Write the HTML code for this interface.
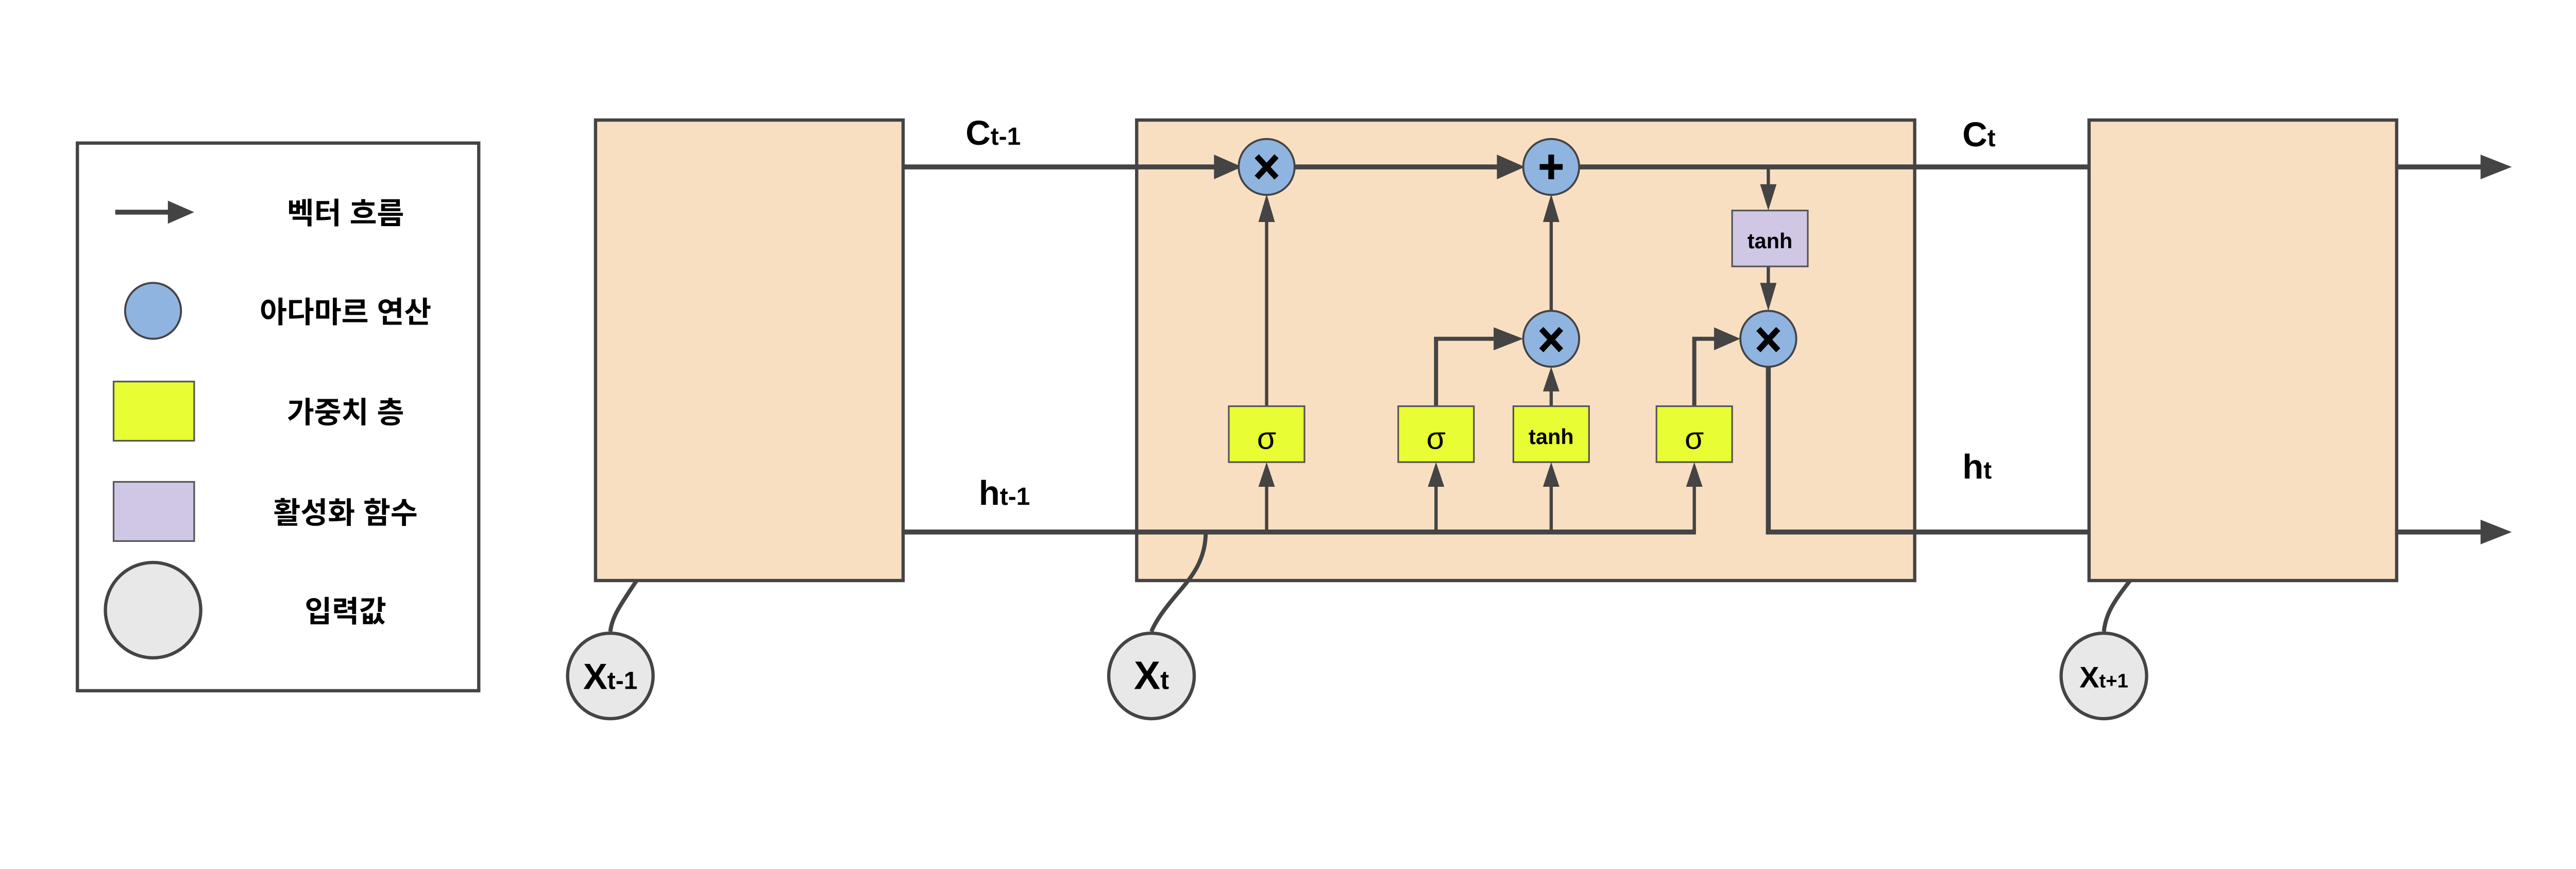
<!DOCTYPE html>
<html><head><meta charset="utf-8"><style>
html,body{margin:0;padding:0;background:#fff;}
svg{display:block;}
text{font-family:"Liberation Sans","Noto Sans CJK KR",sans-serif;font-weight:bold;fill:#000;}
</style></head><body>
<svg width="5357" height="1687" viewBox="0 0 1677.8 528.4" xmlns="http://www.w3.org/2000/svg">
<g stroke="#444" fill="none" stroke-linecap="butt">
<rect x="47" y="87" width="244" height="333" fill="#fff" stroke-width="2"/>
</g>
<g stroke="#444" stroke-width="2">
<rect x="362" y="73" width="187" height="280" fill="#f9dfc2"/>
<rect x="691" y="73" width="473" height="280" fill="#f9dfc2"/>
<rect x="1270" y="73" width="187" height="280" fill="#f9dfc2"/>
</g>
<g stroke="#444" stroke-width="3" fill="none">
<line x1="549" y1="101.5" x2="742" y2="101.5"/>
<line x1="787" y1="101.5" x2="914" y2="101.5"/>
<line x1="960" y1="101.5" x2="1270" y2="101.5"/>
<line x1="1457" y1="101.5" x2="1512" y2="101.5"/>
<line x1="549" y1="323.5" x2="1031" y2="323.5"/>
<polyline points="1075,223 1075,323.5 1270,323.5"/>
<line x1="1457" y1="323.5" x2="1512" y2="323.5"/>
<path d="M733,323 C733,345 720,355 710,368 C702,378 700,384 700,384" stroke-width="2.5"/>
<path d="M387,353 C377,368 372,375 371,384" stroke-width="2.5"/>
<path d="M1295,353 C1283,368 1280,375 1279,384" stroke-width="2.5"/>
</g>
<g stroke="#444" stroke-width="2" fill="none">
<line x1="770" y1="323.5" x2="770" y2="293"/>
<line x1="873" y1="323.5" x2="873" y2="293"/>
<line x1="943" y1="323.5" x2="943" y2="293"/>
<line x1="1030" y1="323.5" x2="1030" y2="293"/>
<line x1="770" y1="247" x2="770" y2="130"/>
<line x1="943" y1="189" x2="943" y2="130"/>
<line x1="943" y1="247" x2="943" y2="235"/>
<polyline points="873,247 873,206 912,206" stroke-width="2.5"/>
<polyline points="1030,247 1030,206 1046,206" stroke-width="2.5"/>
<line x1="1075" y1="101.5" x2="1075" y2="116"/>
<line x1="1075" y1="162" x2="1075" y2="176"/>
</g>
<g fill="#444">
<polygon points="738,94 755,101.5 738,109"/>
<polygon points="910,94 927,101.5 910,109"/>
<polygon points="1508,94 1527,101.5 1508,109"/>
<polygon points="1508,316 1527,323.5 1508,331"/>
<polygon points="908,199 926,206 908,213"/>
<polygon points="1042,199 1058,206 1042,213"/>
<polygon points="765,296 770,281 775,296"/>
<polygon points="868,296 873,281 878,296"/>
<polygon points="938,296 943,281 948,296"/>
<polygon points="1025,296 1030,281 1035,296"/>
<polygon points="765,135 770,118 775,135"/>
<polygon points="938,135 943,118 948,135"/>
<polygon points="938,238 943,223 948,238"/>
<polygon points="1070,112 1075,128 1080,112"/>
<polygon points="1070,172 1075,189 1080,172"/>
</g>
<g stroke="#444" stroke-width="1.2" fill="#8fb4e0">
<circle cx="770" cy="101.5" r="17"/>
<circle cx="943" cy="101.5" r="17"/>
<circle cx="943" cy="206" r="17"/>
<circle cx="1075" cy="206" r="17"/>
<circle cx="93" cy="189" r="17"/>
</g>
<g stroke="#000" stroke-width="3.5" stroke-linecap="butt">
<line x1="764" y1="95" x2="776" y2="108"/><line x1="776" y1="95" x2="764" y2="108"/>
<line x1="937" y1="200" x2="949" y2="213"/><line x1="949" y1="200" x2="937" y2="213"/>
<line x1="1069" y1="200" x2="1081" y2="213"/><line x1="1081" y1="200" x2="1069" y2="213"/>
<line x1="943" y1="94" x2="943" y2="109"/><line x1="936" y1="101.5" x2="950" y2="101.5"/>
</g>
<g stroke="#555" stroke-width="1" fill="#e8fd33">
<rect x="747" y="247" width="46" height="34"/>
<rect x="850" y="247" width="46" height="34"/>
<rect x="920" y="247" width="46" height="34"/>
<rect x="1007" y="247" width="46" height="34"/>
<rect x="69" y="232" width="49" height="36"/>
</g>
<g stroke="#555" stroke-width="1" fill="#d0c7e5">
<rect x="1053" y="128" width="46" height="34"/>
<rect x="69" y="293" width="49" height="36"/>
</g>
<g stroke="#444" stroke-width="2" fill="#e8e8e8">
<circle cx="371" cy="411" r="26"/>
<circle cx="700" cy="411" r="26"/>
<circle cx="1279" cy="411" r="26"/>
<circle cx="93" cy="371" r="29"/>
</g>
<line x1="70" y1="129" x2="104" y2="129" stroke="#444" stroke-width="3"/>
<polygon points="102,122 118,129 102,136" fill="#444"/>
<g font-size="19" text-anchor="middle">
<text x="770" y="273" style="font-weight:normal">σ</text>
<text x="873" y="273" style="font-weight:normal">σ</text>
<text x="1030" y="273" style="font-weight:normal">σ</text>
</g>
<text x="943" y="270" font-size="13" text-anchor="middle">tanh</text>
<text x="1076" y="151" font-size="13" text-anchor="middle">tanh</text>
<g font-size="18" text-anchor="middle">
<text x="210" y="136">벡터 흐름</text>
<text x="210" y="196">아다마르 연산</text>
<text x="210" y="257">가중치 층</text>
<text x="210" y="318">활성화 함수</text>
<text x="210" y="378">입력값</text>
</g>
<text x="587" y="88" font-size="21">C<tspan font-size="15">t-1</tspan></text>
<text x="595" y="307" font-size="21">h<tspan font-size="15">t-1</tspan></text>
<text x="1193" y="89" font-size="21">C<tspan font-size="15">t</tspan></text>
<text x="1193" y="291" font-size="21">h<tspan font-size="15">t</tspan></text>
<text x="371" y="419" font-size="22" text-anchor="middle">X<tspan font-size="15">t-1</tspan></text>
<text x="700" y="419" font-size="24" text-anchor="middle">X<tspan font-size="16">t</tspan></text>
<text x="1279" y="418" font-size="18" text-anchor="middle">X<tspan font-size="12">t+1</tspan></text>
</svg>
</body></html>
